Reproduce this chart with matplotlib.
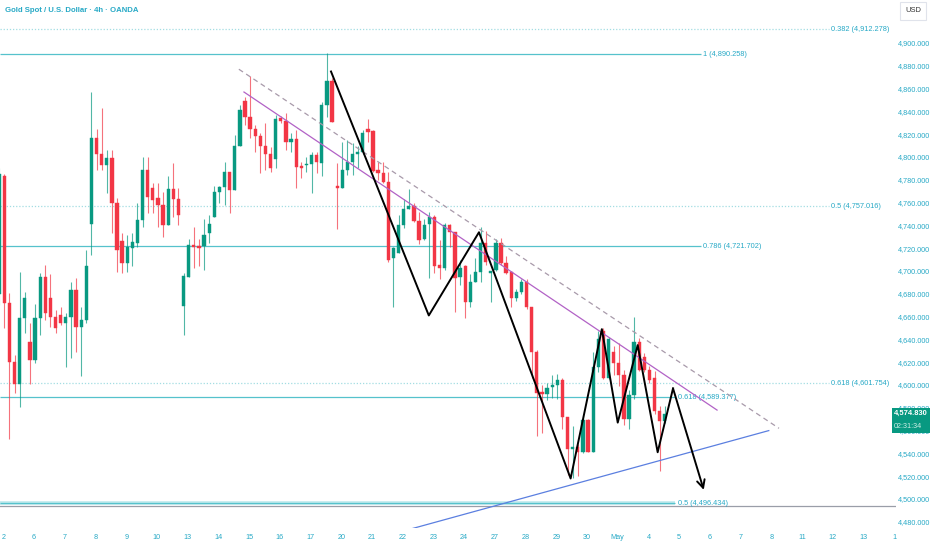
'''Gold Spot / U.S. Dollar, 4h Kerzen mit Fibo-Linien und Trendlinien.
'''
import matplotlib
matplotlib.use('Agg')
import matplotlib.pyplot as plt
from matplotlib.patches import Rectangle
from matplotlib.transforms import blended_transform_factory

# 4h-Kerzen (Open, High, Low, Close)
opens = [4680, 4783, 4672, 4620, 4601, 4659, 4638, 4622, 4659, 4695,
         4676, 4660, 4661, 4654, 4660, 4683, 4651, 4657, 4741, 4817,
         4803, 4793, 4799, 4760, 4726, 4707, 4720, 4725, 4745, 4789,
         4773, 4764, 4758, 4740, 4772, 4763, 4669, 4695, 4723, 4722,
         4722, 4733, 4747, 4769, 4774, 4787, 4771, 4810, 4849, 4835,
         4825, 4818, 4810, 4803, 4798, 4834, 4832, 4813, 4816, 4792,
         4793, 4794, 4802, 4795, 4846, 4867, 4775, 4773, 4789, 4796,
         4803, 4804, 4825, 4823, 4789, 4786, 4778, 4711, 4716, 4740,
         4754, 4757, 4744, 4728, 4741, 4747, 4705, 4703, 4740, 4734,
         4695, 4704, 4673, 4690, 4699, 4725, 4698, 4701, 4725, 4707,
         4699, 4676, 4682, 4690, 4668, 4629, 4594, 4592, 4598, 4600,
         4604, 4572, 4544, 4546, 4541, 4569, 4541, 4616, 4647, 4606,
         4629, 4619, 4609, 4570, 4591, 4638, 4625, 4613, 4606, 4577,
         4568]
highs = [4790, 4785, 4681, 4626, 4699, 4682, 4654, 4671, 4698, 4705,
         4697, 4666, 4668, 4663, 4690, 4694, 4668, 4718, 4857, 4825,
         4843, 4806, 4806, 4764, 4733, 4732, 4733, 4760, 4800, 4800,
         4777, 4777, 4769, 4783, 4795, 4773, 4698, 4728, 4739, 4728,
         4746, 4749, 4775, 4775, 4796, 4787, 4819, 4846, 4853, 4871,
         4828, 4821, 4830, 4809, 4837, 4836, 4839, 4821, 4824, 4796,
         4800, 4804, 4804, 4848, 4891, 4869, 4795, 4813, 4815, 4812,
         4810, 4824, 4833, 4824, 4796, 4796, 4787, 4721, 4749, 4763,
         4772, 4760, 4752, 4746, 4752, 4749, 4727, 4742, 4741, 4734,
         4710, 4705, 4697, 4711, 4739, 4735, 4700, 4728, 4729, 4713,
         4700, 4684, 4693, 4693, 4668, 4631, 4600, 4602, 4609, 4610,
         4606, 4572, 4564, 4548, 4574, 4570, 4629, 4647, 4650, 4642,
         4634, 4637, 4613, 4596, 4660, 4641, 4628, 4617, 4612, 4582,
         4582]
lows = [4670, 4650, 4553, 4593, 4581, 4646, 4601, 4619, 4644, 4657,
        4651, 4646, 4653, 4616, 4624, 4629, 4608, 4654, 4714, 4789,
        4789, 4768, 4733, 4699, 4698, 4699, 4704, 4721, 4739, 4751,
        4751, 4739, 4730, 4740, 4747, 4740, 4644, 4695, 4703, 4704,
        4701, 4725, 4747, 4760, 4758, 4751, 4771, 4810, 4828, 4817,
        4804, 4786, 4789, 4787, 4790, 4830, 4806, 4804, 4773, 4782,
        4787, 4768, 4786, 4783, 4835, 4831, 4737, 4773, 4784, 4784,
        4790, 4803, 4813, 4787, 4780, 4777, 4708, 4668, 4716, 4738,
        4754, 4743, 4724, 4727, 4694, 4698, 4693, 4701, 4721, 4664,
        4688, 4659, 4668, 4690, 4690, 4705, 4673, 4700, 4705, 4697,
        4668, 4674, 4680, 4667, 4606, 4555, 4558, 4587, 4589, 4588,
        4561, 4521, 4518, 4520, 4540, 4541, 4541, 4611, 4605, 4605,
        4609, 4599, 4565, 4561, 4588, 4612, 4611, 4602, 4575, 4525,
        4567]
closes = [4785, 4672, 4620, 4601, 4659, 4676, 4622, 4659, 4695, 4663,
          4660, 4650, 4654, 4660, 4683, 4651, 4657, 4704, 4817, 4803,
          4793, 4799, 4760, 4718, 4707, 4721, 4725, 4745, 4789, 4765,
          4762, 4758, 4740, 4772, 4763, 4749, 4696, 4723, 4721, 4720,
          4732, 4741, 4769, 4774, 4787, 4771, 4810, 4841, 4835, 4825,
          4818, 4810, 4803, 4790, 4833, 4832, 4813, 4816, 4791, 4790,
          4794, 4802, 4796, 4846, 4867, 4831, 4773, 4789, 4796, 4803,
          4804, 4821, 4822, 4788, 4786, 4778, 4710, 4720, 4740, 4754,
          4757, 4744, 4727, 4740, 4747, 4704, 4703, 4740, 4734, 4694,
          4703, 4673, 4690, 4699, 4725, 4708, 4700, 4725, 4707, 4698,
          4676, 4682, 4690, 4668, 4629, 4593, 4592, 4597, 4600, 4604,
          4572, 4544, 4546, 4541, 4569, 4541, 4616, 4640, 4606, 4640,
          4619, 4609, 4570, 4591, 4638, 4613, 4613, 4604, 4577, 4568,
          4574.83]

# Fibo-Level
fib_ratios = ['0.382', '1', '0.5', '0.786', '0.618', '0.618', '0.5']
fib_prices = [4912.278, 4890.258, 4757.016, 4721.702, 4601.754, 4589.377, 4496.434]
grey_level = 4494

# Zeichnungen (Kerzen-Index, Preis)
zigzag_x = [64.8, 83.9, 93.7, 111.6, 117.7, 120.8, 124.7, 128.6, 131.6, 137.6]
zigzag_y = [4875, 4661, 4734, 4518, 4649, 4567, 4635, 4541, 4597, 4508]
dashed_x = [46.8, 152.3]
dashed_y = [4877, 4562]
purple_x = [47.8, 140.2]
purple_y = [4857, 4578]
support_x = [79.0, 150.3]
support_y = [4472, 4560]

day_labels = ['2', '6', '7', '8', '9', '10', '13', '14', '15', '16', '17',
              '20', '21', '22', '23', '24', '27', '28', '29', '30', 'May',
              '4', '5', '6', '7', '8', '11', '12', '13', '1']
price_ticks = list(range(4480, 4901, 20))
last_price = 4574.830
countdown = '02:31:34'

UP = '#089981'
DOWN = '#f23645'
TEAL = '#27a9c6'
FIB = '#56c2cc'
FIB_DOT = '#a3dde2'

plt.rcParams['font.family'] = ['Liberation Sans', 'DejaVu Sans']

fig = plt.figure(figsize=(9.32, 5.5), dpi=100)
ax = fig.add_axes([0, 22 / 550, 896 / 932, 528 / 550])
ax.set_xlim(0.15, 0.15 + 896 / 5.12)
ax.set_ylim(4900 - 485 / 1.14, 4900 + 43 / 1.14)

# Kerzen
for i, (o, h, l, c) in enumerate(zip(opens, highs, lows, closes)):
    col = UP if c >= o else DOWN
    ax.vlines(i, l, h, color=col, lw=0.8, alpha=0.7, zorder=3)
    ax.bar(i, max(abs(c - o), 0.9), bottom=min(o, c), width=0.64,
           color=col, edgecolor=col, lw=0.3, zorder=4)

# Fibo-Linien
x_left = ax.get_xlim()[0]
dotted_end = 162.0
for ratio, price in zip(fib_ratios, fib_prices):
    label = f'{ratio} ({price:,.3f})'
    if price in (4912.278, 4757.016, 4601.754):
        ax.hlines(price, x_left, dotted_end, color=FIB_DOT, lw=0.9,
                  linestyles=(0, (1, 1.5)), zorder=1)
        ax.text(dotted_end + 0.5, price, label, color=TEAL, fontsize=5.3,
                va='center', ha='left')
    else:
        end = 137.0 if price > 4700 else 132.0
        if price < 4500:
            ax.hlines(price, x_left, end, color='#bfe8ec', lw=2.6, zorder=1)
        ax.hlines(price, x_left, end, color=FIB, lw=0.9, zorder=1)
        ax.text(end + 0.5, price, label, color=TEAL, fontsize=5.3,
                va='center', ha='left')
ax.axhline(grey_level, color='#9a9ea8', lw=0.9, zorder=1)

# Trendlinien
ax.plot(dashed_x, dashed_y, color='#a89aaa', lw=0.9, ls=(0, (4, 3)), zorder=5)
ax.plot(purple_x, purple_y, color='#b262c6', lw=0.9, zorder=5)
ax.plot(support_x, support_y, color='#5b7fe0', lw=0.9, zorder=5)
ax.plot(zigzag_x[:-1], zigzag_y[:-1], color='black', lw=1.4, zorder=6)
ax.annotate('', xy=(zigzag_x[-1], zigzag_y[-1]),
            xytext=(zigzag_x[-2], zigzag_y[-2]),
            arrowprops=dict(arrowstyle='->', color='black', lw=1.4,
                            mutation_scale=14, shrinkA=0, shrinkB=0),
            zorder=6)

# Achsen
for s in ax.spines.values():
    s.set_visible(False)
ax.yaxis.tick_right()
ax.set_yticks(price_ticks)
ax.set_yticklabels([f'{p:,.3f}' for p in price_ticks])
ax.set_xticks([0.8 + 6 * k for k in range(len(day_labels))])
ax.set_xticklabels(day_labels)
ax.tick_params(axis='both', length=0, colors=TEAL, labelsize=5.2)
ax.tick_params(axis='y', pad=1.5)
ax.tick_params(axis='x', pad=4)

# aktueller Kurs: ein Kasten, zwei Zeilen
trans = blended_transform_factory(ax.transAxes, ax.transData)
ax.add_patch(Rectangle((892 / 896, last_price - 17), 38 / 896, 22,
                       transform=trans, facecolor=UP, edgecolor='none',
                       clip_on=False, zorder=10))
ax.text(894 / 896, last_price, f'{last_price:,.3f}', transform=trans,
        color='white', fontsize=5.4, fontweight='bold', ha='left',
        va='center', clip_on=False, zorder=11)
ax.text(894 / 896, last_price - 11.5, countdown, transform=trans,
        color='#cdeee5', fontsize=5.2, ha='left', va='center',
        clip_on=False, zorder=11)

fig.text(5 / 932, 1 - 11 / 550, 'Gold Spot / U.S. Dollar · 4h · OANDA',
         color=TEAL, fontsize=5.6, fontweight='bold', va='center', ha='left')
fig.text(913 / 932, 1 - 11 / 550, 'USD', color='#333333', fontsize=5.4,
         ha='center', va='center',
         bbox=dict(boxstyle='square,pad=0.7', fc='white', ec='#e0e3eb', lw=0.8))

fig.savefig('out.png', dpi=100)
